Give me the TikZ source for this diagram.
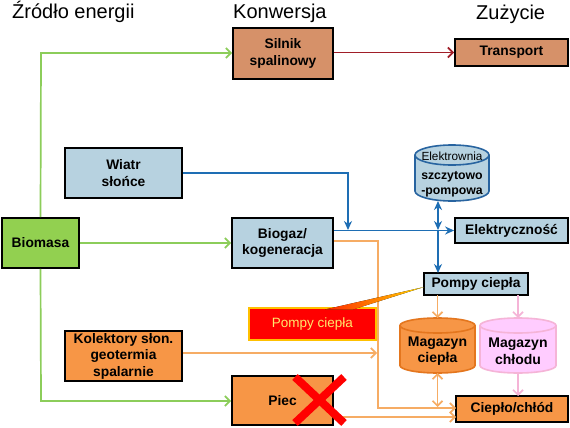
\documentclass[tikz,border=0pt]{standalone}
\usepackage{fontspec}
\setmainfont{Liberation Sans}
\usetikzlibrary{arrows.meta}
\definecolor{brownfill}{RGB}{214,145,105}
\definecolor{lblue}{RGB}{183,210,224}
\definecolor{greenfill}{RGB}{146,208,80}
\definecolor{orangefill}{RGB}{247,150,70}
\definecolor{gline}{RGB}{140,205,90}
\definecolor{oline}{RGB}{246,172,100}
\definecolor{bline}{RGB}{30,110,180}
\definecolor{rline}{RGB}{160,30,40}
\definecolor{pinkfill}{RGB}{255,204,255}
\definecolor{pline}{RGB}{245,180,215}
\definecolor{odraw}{RGB}{228,118,30}
\definecolor{cylblue}{RGB}{40,100,160}
\definecolor{callborder}{RGB}{255,192,0}
\definecolor{calltext}{RGB}{255,232,110}
\begin{document}
\begin{tikzpicture}[x=1pt,y=-1pt,
  box/.style={draw=black, line width=1.8pt, align=center, inner sep=0pt,
    font=\fontsize{13.8}{16.5}\selectfont\bfseries},
  head/.style={anchor=base west, inner sep=0pt, font=\fontsize{20}{22}\selectfont},
  garrow/.style={draw=gline, line width=1.7pt, -{Straight Barb[length=5pt,width=10pt]}},
  oarrow/.style={draw=oline, line width=1.7pt, -{Straight Barb[length=5pt,width=10pt]}},
  odarrow/.style={draw=oline, line width=1.7pt, {Straight Barb[length=5pt,width=10pt]}-{Straight Barb[length=5pt,width=10pt]}},
  parrow/.style={draw=pline, line width=1.7pt, -{Straight Barb[length=5pt,width=10pt]}},
  rarrow/.style={draw=rline, line width=1.7pt, -{Straight Barb[length=5pt,width=10pt]}},
  barrow/.style={draw=bline, line width=1.7pt, -{Stealth[length=9pt,width=8pt]}},
  bdarrow/.style={draw=bline, line width=1.7pt, {Stealth[length=9pt,width=8pt]}-{Stealth[length=9pt,width=8pt]}},
  cyltext/.style={align=center, inner sep=0pt, font=\fontsize{14}{16.5}\selectfont\bfseries}
]
\useasboundingbox (0,0) rectangle (570,428);
\fill[white] (0,0) rectangle (570,428);

% headings
\node[head] (h1) at (12,19) {Źródło energii};
\node[head] (h2) at (233,19) {Konwersja};
\node[head] (h3) at (476,20) {Zużycie};

% boxes
\node[box, fill=brownfill, minimum width=100pt, minimum height=51pt] (silnik) at (283,53.5) {Silnik\\spalinowy};
\node[box, fill=brownfill, minimum width=113pt, minimum height=27pt] (transport) at (511.5,52.5) {Transport};
\node[box, fill=lblue, minimum width=117pt, minimum height=50pt] (wiatr) at (123.5,173) {Wiatr\\słońce};
\node[box, fill=greenfill, minimum width=77pt, minimum height=50pt] (biomasa) at (40.5,243) {Biomasa};
\node[box, fill=lblue, minimum width=101pt, minimum height=50pt] (biogaz) at (282.5,243) {Biogaz/\\kogeneracja};
\node[box, fill=lblue, minimum width=113pt, minimum height=25pt] (elektr) at (511.5,230.5) {Elektryczność};
\node[box, fill=lblue, minimum width=104pt, minimum height=22pt] (pompy) at (476,284) {Pompy ciepła};
\node[box, fill=orangefill, minimum width=117pt, minimum height=50pt] (kolektory) at (123.5,356) {Kolektory słon.\\geotermia\\spalarnie};
\node[box, fill=orangefill, minimum width=101pt, minimum height=49pt] (piec) at (282.5,400.5) {Piec};
\node[box, fill=orangefill, minimum width=112pt, minimum height=26pt] (cieplo) at (512,409) {Ciepło/chłód};

% cylinders
\draw[fill=lblue, draw=cylblue, line width=1.6pt]
  (415,155) -- (415,191) arc[start angle=180,end angle=0,x radius=37,y radius=10]
  -- (489,155) arc[start angle=0,end angle=-180,x radius=37,y radius=10] -- cycle;
\draw[draw=cylblue, line width=1.6pt] (415,155) arc[start angle=180,end angle=0,x radius=37,y radius=10];
\node[inner sep=0pt, font=\fontsize{11.8}{13}\selectfont] (elektop) at (452,156) {Elektrownia};
\node[align=center, inner sep=0pt, font=\fontsize{12.3}{14.5}\selectfont\bfseries] (elek) at (452,184.5) {szczytowo\\-pompowa};

\draw[fill=orangefill, draw=odraw, line width=1.6pt]
  (400,325.5) -- (400,365.5) arc[start angle=180,end angle=0,x radius=37.5,y radius=7.5]
  -- (475,325.5) arc[start angle=0,end angle=-180,x radius=37.5,y radius=7.5] -- cycle;
\draw[draw=odraw, line width=1.6pt] (400,325.5) arc[start angle=180,end angle=0,x radius=37.5,y radius=7.5];
\node[cyltext] (magc) at (437.5,351) {Magazyn\\ciepła};

\draw[fill=pinkfill, draw=pline, line width=1.6pt]
  (480,325.5) -- (480,365.5) arc[start angle=180,end angle=0,x radius=38,y radius=7.5]
  -- (556,325.5) arc[start angle=0,end angle=-180,x radius=38,y radius=7.5] -- cycle;
\draw[draw=pline, line width=1.6pt] (480,325.5) arc[start angle=180,end angle=0,x radius=38,y radius=7.5];
\node[cyltext] (magch) at (518,351) {Magazyn\\chłodu};

% coordinates
\coordinate (gtop) at (41,53);
\coordinate (gbot) at (41,401);
\coordinate (wbend) at (348,173);
\coordinate (wend) at (348,230);
\coordinate (ebot) at (438,201);
\coordinate (ejoin) at (438,230);
\coordinate (ptop) at (438,273);
\coordinate (obend) at (378,241);
\coordinate (ovbot) at (378,408);
\coordinate (cw1) at (456,408);
\coordinate (kend) at (377,353);
\coordinate (pe) at (333,417);
\coordinate (cw2) at (456,417);
\coordinate (pbot1) at (437.5,295);
\coordinate (mctop) at (437.5,318);
\coordinate (mcbot) at (437.5,373);
\coordinate (mcend) at (437.5,407);
\coordinate (pbot2) at (518,295);
\coordinate (mhtop) at (518,318);
\coordinate (mhbot) at (518,373);
\coordinate (ctop) at (518,396);

% connectors
\draw[garrow] (biomasa.north) -- (gtop) -- (silnik.west |- gtop);
\draw[garrow] (biomasa.east) -- (biogaz.west);
\draw[garrow] (biomasa.south) -- (gbot) -- (piec.west |- gbot);
\draw[rarrow] (silnik.east |- transport.west) -- (transport.west);
\draw[barrow] (wiatr.east) -- (wbend) -- (wend);
\draw[barrow] (biogaz.east |- elektr.west) -- (elektr.west);
\draw[bdarrow] (ebot) -- (ejoin);
\draw[barrow] (ejoin) -- (ptop);
\draw[oarrow] (biogaz.east |- obend) -- (obend) -- (ovbot) -- (cw1);
\draw[oarrow] (kolektory.east |- kend) -- (kend);
\draw[oarrow] (pe) -- (cw2);
\draw[oarrow] (pbot1) -- (mctop);
\draw[odarrow] (mcbot) -- (mcend);
\draw[parrow] (pbot2) -- (mhtop);
\draw[parrow] (mhbot) -- (ctop);

% callout
\node[fill=red, draw=callborder, line width=1.8pt, minimum width=127pt, minimum height=32pt,
  inner sep=0pt, text=calltext, font=\fontsize{13.5}{15}\selectfont] (call) at (312.5,324) {Pompy ciepła};
\fill[left color=red!85!yellow, right color=callborder!60!yellow] (325,309.5) -- (424,287) -- (353,309.5) -- cycle;

% red cross
\draw[red, line width=8pt] (295,377) -- (344,423);
\draw[red, line width=8pt] (344,377) -- (295,423);
\end{tikzpicture}
\end{document}
